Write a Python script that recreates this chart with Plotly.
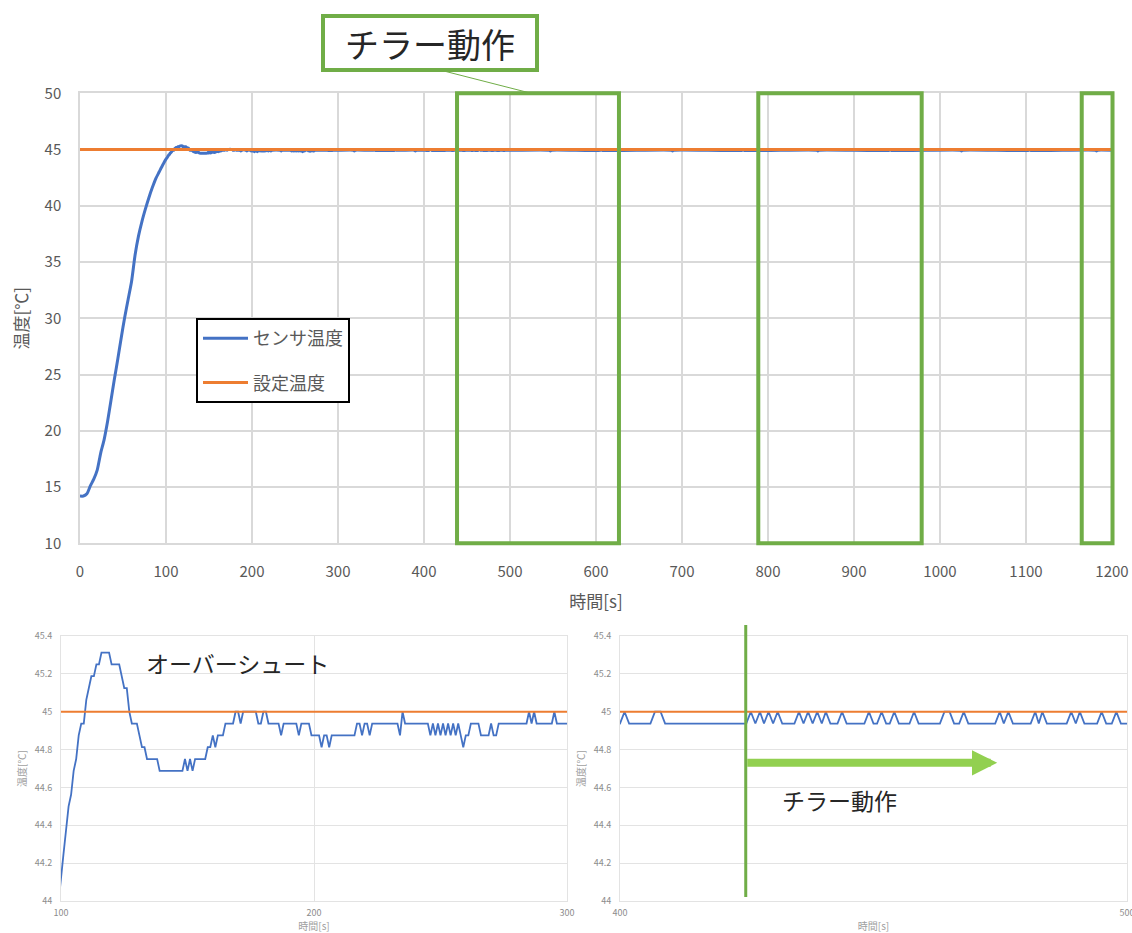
import plotly.graph_objects as go

# ---------------- data ----------------
rise_time = [0, 4, 8, 12, 16, 20, 24, 28, 32, 36, 40, 44, 48, 52, 56, 60, 64, 68, 72, 76, 80, 84, 88, 92, 96]
rise_temp = [14.2, 14.2, 14.4, 15.1, 15.7, 16.5, 18.0, 19.2, 20.8, 22.7, 24.6, 26.4, 28.3, 30.1, 31.7, 33.3,
             35.6, 37.3, 38.6, 39.7, 40.7, 41.6, 42.4, 43.0, 43.6]

overshoot_time = [100, 101, 102, 103, 104, 105, 106, 107, 108, 109, 110, 111, 112, 113, 114, 115, 116, 119, 120,
                  123, 124, 125, 126, 127, 128, 130, 131, 132, 133, 134, 138, 139, 148, 149, 150, 151, 152, 153,
                  157, 158, 159, 160, 161, 162, 164, 165, 168, 169, 170, 171, 172, 177, 178, 179, 180, 181, 182,
                  186, 187, 188, 193, 194, 195, 198, 199, 202, 203, 204, 205, 206, 207, 216, 217, 218, 219, 220,
                  221, 222, 223, 233, 234, 235, 236, 245, 246, 247, 248, 249, 250, 251, 252, 253, 254, 255, 256,
                  257, 258, 259, 260, 261, 262, 265, 266, 269, 270, 271, 272, 273, 284, 285, 286, 287, 288, 294,
                  295, 296, 300]
overshoot_temp = [44.15, 44.25, 44.375, 44.5, 44.5625, 44.6875, 44.75, 44.875, 44.9375, 44.9375, 45.0625,
                  45.125, 45.1875, 45.1875, 45.25, 45.25, 45.3125, 45.3125, 45.25, 45.25, 45.1875, 45.125,
                  45.125, 45.0, 44.9375, 44.9375, 44.875, 44.8125, 44.8125, 44.75, 44.75, 44.6875, 44.6875,
                  44.75, 44.6875, 44.75, 44.6875, 44.75, 44.75, 44.8125, 44.8125, 44.875, 44.8125, 44.875,
                  44.875, 44.9375, 44.9375, 45.0, 45.0, 44.9375, 45.0, 45.0, 44.9375, 44.9375, 45.0, 45.0,
                  44.9375, 44.9375, 44.875, 44.9375, 44.9375, 44.875, 44.9375, 44.9375, 44.875, 44.875,
                  44.8125, 44.875, 44.875, 44.8125, 44.875, 44.875, 44.9375, 44.9375, 44.875, 44.9375,
                  44.9375, 44.875, 44.9375, 44.9375, 44.875, 45.0, 44.9375, 44.9375, 44.875, 44.9375, 44.875,
                  44.9375, 44.875, 44.9375, 44.875, 44.9375, 44.875, 44.9375, 44.875, 44.9375, 44.875,
                  44.8125, 44.875, 44.875, 44.9375, 44.9375, 44.875, 44.875, 44.9375, 44.875, 44.875,
                  44.9375, 44.9375, 45.0, 44.9375, 45.0, 44.9375, 44.9375, 45.0, 44.9375, 44.9375]

steady_time = [318, 319, 320, 341, 342, 343, 366, 367, 368, 389, 390, 391]
steady_temp = [44.9375, 44.875, 44.9375, 44.9375, 45.0, 44.9375, 44.9375, 45.0, 44.9375, 44.9375, 44.875, 44.9375]

chiller_time = [400.0, 400.9, 401.8, 406.0, 406.9, 408.0, 408.9, 424.9, 425.8, 426.7, 427.6, 428.4, 429.3,
                430.2, 431.1, 432.0, 434.4, 435.3, 436.2, 437.1, 438.0, 438.9, 439.8, 440.6, 441.5, 442.9,
                443.8, 444.7, 448.2, 449.1, 450.0, 450.7, 451.6, 452.5, 453.2, 454.1, 455.0, 457.1, 458.0,
                458.9, 463.1, 464.0, 465.0, 465.9, 466.9, 467.8, 468.7, 474.0, 474.9, 475.7, 476.6, 477.5,
                481.0, 481.9, 482.6, 483.3, 484.2, 488.1, 489.0, 489.9, 490.7, 491.6, 494.1, 495.0, 495.9,
                497.0, 497.9, 498.8, 500.0]
chiller_temp = [44.9375, 45.0, 44.9375, 44.9375, 45.0, 45.0, 44.9375, 44.9375, 45.0, 44.9375, 45.0, 44.9375,
                45.0, 44.9375, 45.0, 44.9375, 44.9375, 45.0, 44.9375, 45.0, 44.9375, 45.0, 44.9375, 45.0,
                44.9375, 44.9375, 45.0, 44.9375, 44.9375, 45.0, 44.9375, 44.9375, 45.0, 44.9375, 44.9375,
                45.0, 44.9375, 44.9375, 45.0, 44.9375, 44.9375, 45.0, 45.0, 44.9375, 44.9375, 45.0, 44.9375,
                44.9375, 45.0, 44.9375, 45.0, 44.9375, 44.9375, 45.0, 44.9375, 45.0, 44.9375, 44.9375, 45.0,
                44.9375, 45.0, 44.9375, 44.9375, 45.0, 44.9375, 44.9375, 45.0, 44.9375, 44.9375]

late_time = [546, 547, 548, 605, 606, 607, 688, 689, 690, 770, 771, 772, 857, 858, 859, 941, 942, 943,
             1024, 1025, 1026, 1103, 1104, 1105, 1181, 1182, 1183, 1200]
late_temp = [44.9375, 44.875, 44.9375, 44.9375, 45.0, 44.9375, 44.9375, 44.875, 44.9375, 44.9375, 45.0,
             44.9375, 44.9375, 44.875, 44.9375, 44.9375, 45.0, 44.9375, 44.9375, 44.875, 44.9375, 44.9375,
             45.0, 44.9375, 44.9375, 44.875, 44.9375, 44.9375]

setpoint_time = [0, 1200]
setpoint_temp = [45, 45]

main_x_ticks = [0, 100, 200, 300, 400, 500, 600, 700, 800, 900, 1000, 1100, 1200]
main_y_ticks = [10, 15, 20, 25, 30, 35, 40, 45, 50]
zoom_y_ticks = [44, 44.2, 44.4, 44.6, 44.8, 45, 45.2, 45.4]
zoom1_x_ticks = [100, 200, 300]
zoom2_x_ticks = [400, 500]

chiller_windows = [(438.4, 626.7), (788.7, 978.7), (1164.8, 1200.6)]
chiller_on_time = 424.8
arrow_end_time = 474.4
arrow_level = 44.73

time_s = rise_time + overshoot_time + steady_time + chiller_time + late_time
sensor_c = rise_temp + overshoot_temp + steady_temp + chiller_temp + late_temp

# ---------------- layout geometry ----------------
W, H = 1132, 933
FONT = "Noto Sans CJK JP"
GRAY = "#595959"
BLUE = "#4472C4"
ORANGE = "#ED7D31"
GREEN = "#70AD47"
LIGHTGREEN = "#92D050"

top_x_dom = [80 / W, 1112 / W]
top_y_dom = [1 - 543.3 / H, 1 - 93.3 / H]
top_x_rng = [0, 1200]
top_y_rng = [10, 50]
bl_x_dom = [61 / W, 567 / W]
br_x_dom = [620 / W, 1127 / W]
bot_y_dom = [1 - 901 / H, 1 - 636 / H]


def paper_x(v, dom, rng):
    return dom[0] + (v - rng[0]) / (rng[1] - rng[0]) * (dom[1] - dom[0])


def paper_y(v, dom, rng):
    return dom[0] + (v - rng[0]) / (rng[1] - rng[0]) * (dom[1] - dom[0])


fig = go.Figure()

# top chart
fig.add_trace(go.Scatter(x=time_s, y=sensor_c, mode="lines", name="センサ温度",
                         line=dict(color=BLUE, width=3, shape="spline", smoothing=0.6),
                         xaxis="x", yaxis="y", legendgroup="a"))
fig.add_trace(go.Scatter(x=setpoint_time, y=setpoint_temp, mode="lines", name="設定温度",
                         line=dict(color=ORANGE, width=3), xaxis="x", yaxis="y", legendgroup="b"))
# bottom left
fig.add_trace(go.Scatter(x=time_s, y=sensor_c, mode="lines", showlegend=False,
                         line=dict(color=BLUE, width=1.8), xaxis="x2", yaxis="y2"))
fig.add_trace(go.Scatter(x=setpoint_time, y=setpoint_temp, mode="lines", showlegend=False,
                         line=dict(color=ORANGE, width=2), xaxis="x2", yaxis="y2"))
# bottom right
fig.add_trace(go.Scatter(x=time_s, y=sensor_c, mode="lines", showlegend=False,
                         line=dict(color=BLUE, width=1.8), xaxis="x3", yaxis="y3"))
fig.add_trace(go.Scatter(x=setpoint_time, y=setpoint_temp, mode="lines", showlegend=False,
                         line=dict(color=ORANGE, width=2), xaxis="x3", yaxis="y3"))

grid_main = dict(showgrid=True, gridcolor="#D9D9D9", gridwidth=1.5, zeroline=False, showline=True,
                 linecolor="#D9D9D9", linewidth=1.5, mirror=True, ticks="", automargin=False,
                 fixedrange=True)
grid_small = dict(showgrid=True, gridcolor="#E3E3E3", gridwidth=1, zeroline=False, showline=True,
                  linecolor="#E3E3E3", linewidth=1, mirror=True, ticks="", automargin=False,
                  fixedrange=True, ticklabeloverflow="allow")
small_tick = dict(size=9, color="#8C8C8C", family=FONT)
small_title = dict(size=10, color="#A0A0A0", family=FONT)

fig.update_layout(
    width=W, height=H,
    margin=dict(l=0, r=0, t=0, b=0),
    paper_bgcolor="white", plot_bgcolor="white",
    font=dict(family=FONT, color=GRAY),
    xaxis=dict(domain=top_x_dom, range=top_x_rng, tickvals=main_x_ticks, anchor="y",
               tickfont=dict(size=15, color=GRAY), ticklabelstandoff=14,
               title=dict(text="時間[s]", font=dict(size=17, color=GRAY), standoff=16), **grid_main),
    yaxis=dict(domain=top_y_dom, range=top_y_rng, tickvals=main_y_ticks, anchor="x",
               tickfont=dict(size=15, color=GRAY), ticklabelstandoff=14,
               title=dict(text="温度[℃]", font=dict(size=17, color=GRAY), standoff=12), **grid_main),
    xaxis2=dict(domain=bl_x_dom, range=[100, 300], tickvals=zoom1_x_ticks, anchor="y2",
                tickfont=small_tick, ticklabelstandoff=3,
                title=dict(text="時間[s]", font=small_title, standoff=6), **grid_small),
    yaxis2=dict(domain=bot_y_dom, range=[44, 45.4], tickvals=zoom_y_ticks, anchor="x2",
                tickfont=small_tick, ticklabelstandoff=6,
                title=dict(text="温度[℃]", font=small_title, standoff=6), **grid_small),
    xaxis3=dict(domain=br_x_dom, range=[400, 500], tickvals=zoom2_x_ticks, anchor="y3",
                tickfont=small_tick, ticklabelstandoff=3,
                title=dict(text="時間[s]", font=small_title, standoff=6), **grid_small),
    yaxis3=dict(domain=bot_y_dom, range=[44, 45.4], tickvals=zoom_y_ticks, anchor="x3",
                tickfont=small_tick, ticklabelstandoff=6,
                title=dict(text="温度[℃]", font=small_title, standoff=6), **grid_small),
    legend=dict(x=196 / W, y=1 - 318 / H, xanchor="left", yanchor="top",
                bordercolor="black", borderwidth=2, bgcolor="white",
                font=dict(size=18, color=GRAY, family=FONT),
                traceorder="grouped", tracegroupgap=18, itemwidth=45),
    showlegend=True,
)

shapes = []
# chiller windows on main chart
for (t0, t1) in chiller_windows:
    shapes.append(dict(type="rect", xref="paper", yref="paper",
                       x0=paper_x(t0, top_x_dom, top_x_rng), x1=paper_x(t1, top_x_dom, top_x_rng),
                       y0=paper_y(10, top_y_dom, top_y_rng), y1=paper_y(50, top_y_dom, top_y_rng),
                       line=dict(color=GREEN, width=4)))
# callout box
shapes.append(dict(type="line", xref="paper", yref="paper", x0=440 / W, y0=1 - 70 / H,
                   x1=530 / W, y1=1 - 93 / H, line=dict(color=GREEN, width=1)))
shapes.append(dict(type="rect", xref="paper", yref="paper", x0=323 / W, x1=537 / W,
                   y0=1 - 70 / H, y1=1 - 16 / H, line=dict(color=GREEN, width=4), fillcolor="white"))
# chiller start line on lower right chart
shapes.append(dict(type="line", xref="x3", yref="paper", x0=chiller_on_time, x1=chiller_on_time,
                   y0=1 - 897 / H, y1=1 - 625 / H, line=dict(color=GREEN, width=3)))
fig.update_layout(shapes=shapes)

fig.add_annotation(x=430 / W, y=1 - 43 / H, xref="paper", yref="paper", text="チラー動作",
                   xanchor="center", yanchor="middle",
                   showarrow=False, font=dict(size=34, color="#262626", family=FONT))
fig.add_annotation(x=237 / W, y=1 - 663 / H, xref="paper", yref="paper", text="オーバーシュート",
                   xanchor="center", yanchor="middle",
                   showarrow=False, font=dict(size=23, color="#262626", family=FONT))
fig.add_annotation(x=839 / W, y=1 - 800 / H, xref="paper", yref="paper", text="チラー動作",
                   xanchor="center", yanchor="middle",
                   showarrow=False, font=dict(size=23, color="#262626", family=FONT))
fig.add_annotation(x=arrow_end_time, y=arrow_level, xref="x3", yref="y3",
                   ax=chiller_on_time, ay=arrow_level, axref="x3", ayref="y3",
                   text="", showarrow=True, arrowhead=2, arrowsize=0.63, arrowwidth=8,
                   arrowcolor=LIGHTGREEN)

fig.write_html("out.html")
